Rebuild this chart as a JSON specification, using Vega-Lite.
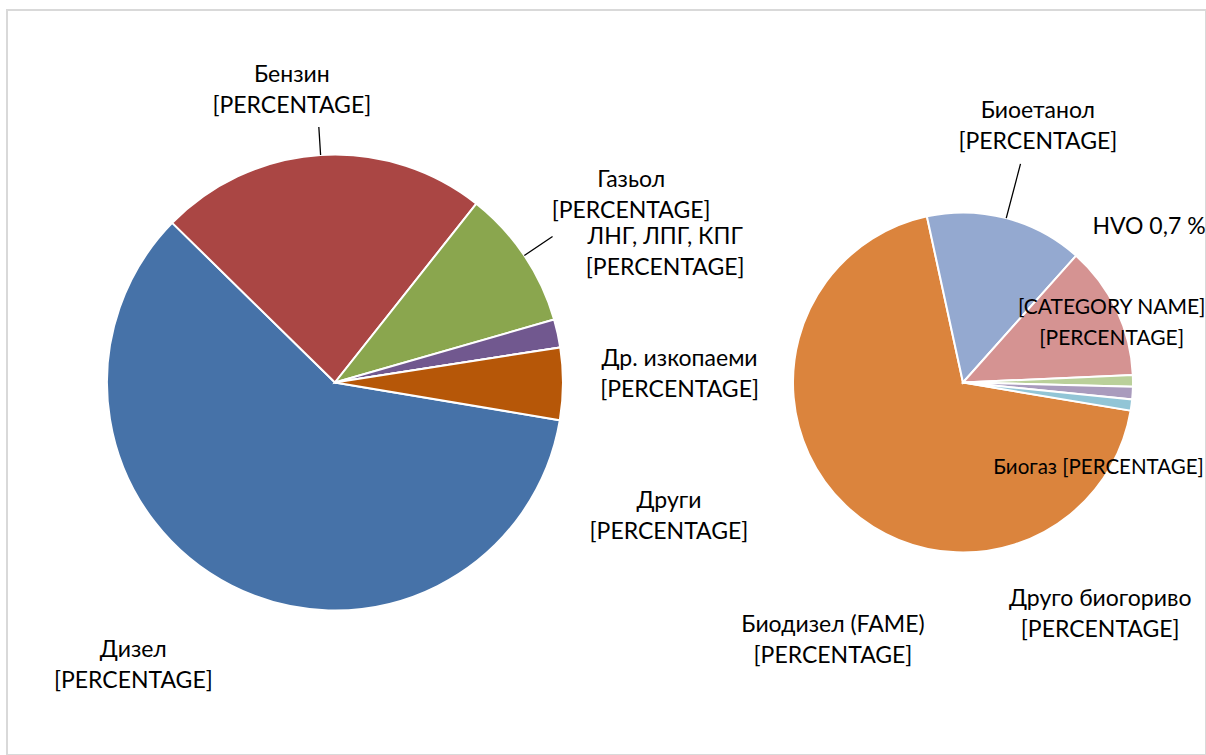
{
  "$schema": "https://vega.github.io/schema/vega-lite/v6.json",
  "width": 1199,
  "height": 745,
  "autosize": "none",
  "padding": {"left": 7, "top": 10, "right": 0, "bottom": 0},
  "background": "white",
  "config": {"view": {"stroke": "#d9d9d9", "strokeWidth": 2}, "font": "Lato"},
  "data": {
    "values": [
      {"pie": "main", "idx": 0, "category": "Дизел", "value": 59.7, "label": "Дизел\n[PERCENTAGE]"},
      {"pie": "main", "idx": 1, "category": "Бензин", "value": 23.3, "label": "Бензин\n[PERCENTAGE]"},
      {"pie": "main", "idx": 2, "category": "Газьол", "value": 9.9, "label": "Газьол\n[PERCENTAGE]"},
      {"pie": "main", "idx": 3, "category": "ЛНГ, ЛПГ, КПГ", "value": 2.0, "label": "ЛНГ, ЛПГ, КПГ\n[PERCENTAGE]"},
      {"pie": "main", "idx": 4, "category": "Др. изкопаеми", "value": 0, "label": "Др. изкопаеми\n[PERCENTAGE]"},
      {"pie": "main", "idx": 5, "category": "Други", "value": 5.1, "label": "Други\n[PERCENTAGE]"},
      {"pie": "sub", "idx": 0, "category": "Биодизел (FAME)", "value": 68.95, "label": "Биодизел (FAME)\n[PERCENTAGE]"},
      {"pie": "sub", "idx": 1, "category": "Биоетанол", "value": 15.0, "label": "Биоетанол\n[PERCENTAGE]"},
      {"pie": "sub", "idx": 2, "category": "[CATEGORY NAME]", "value": 12.7, "label": "[CATEGORY NAME]\n[PERCENTAGE]"},
      {"pie": "sub", "idx": 3, "category": "HVO", "value": 1.1, "label": "HVO 0,7 %"},
      {"pie": "sub", "idx": 4, "category": "Биогаз", "value": 1.2, "label": "Биогаз [PERCENTAGE]"},
      {"pie": "sub", "idx": 5, "category": "Друго биогориво", "value": 1.05, "label": "Друго биогориво\n[PERCENTAGE]"}
    ]
  },
  "encoding": {
    "x": {
      "field": "pie",
      "type": "nominal",
      "scale": {"type": "point", "domain": ["main", "sub"], "padding": 0.4546, "align": 0.5744},
      "axis": null
    },
    "theta": {
      "field": "value",
      "type": "quantitative",
      "stack": true,
      "scale": {"range": [1.737, 8.0202]}
    },
    "order": {"field": "idx", "type": "quantitative"},
    "color": {
      "field": "category",
      "type": "nominal",
      "scale": {
        "domain": ["Дизел", "Бензин", "Газьол", "ЛНГ, ЛПГ, КПГ", "Др. изкопаеми", "Други", "Биодизел (FAME)", "Биоетанол", "[CATEGORY NAME]", "HVO", "Биогаз", "Друго биогориво"],
        "range": ["#4672A8", "#AA4644", "#8AA64E", "#71588F", "#4198AF", "#B65708", "#DB843D", "#94A9D0", "#D59392", "#BAD09A", "#A99BBD", "#92C5D6"]
      },
      "legend": null
    }
  },
  "layer": [
    {
      "transform": [{"filter": "datum.pie === 'main'"}],
      "mark": {"type": "arc", "outerRadius": 228, "stroke": "white", "strokeWidth": 2}
    },
    {
      "transform": [{"filter": "datum.pie === 'sub'"}],
      "mark": {"type": "arc", "outerRadius": 170, "stroke": "white", "strokeWidth": 2}
    },
    {
      "transform": [{"filter": "datum.pie === 'main'"}],
      "mark": {
        "type": "arc",
        "padAngle": 3.1416,
        "innerRadius": 228,
        "outerRadius": {"expr": "[228, 256, 262, 228, 228, 228][datum.idx]"},
        "stroke": "#000000",
        "strokeWidth": {"expr": "(datum.idx === 1 || datum.idx === 2) ? 1.3 : 0"}
      },
      "encoding": {"color": {"value": "#000000"}}
    },
    {
      "transform": [{"filter": "datum.pie === 'sub'"}],
      "mark": {
        "type": "arc",
        "padAngle": 3.1416,
        "innerRadius": 170,
        "outerRadius": {"expr": "[170, 226, 170, 170, 170, 170][datum.idx]"},
        "stroke": "#000000",
        "strokeWidth": {"expr": "datum.idx === 1 ? 1.3 : 0"}
      },
      "encoding": {"color": {"value": "#000000"}}
    },
    {
      "transform": [{"filter": "datum.pie === 'main'"}],
      "mark": {
        "type": "text",
        "radius": 288,
        "font": "Lato",
        "fontSize": 23,
        "lineHeight": 31,
        "lineBreak": "\n",
        "align": "center",
        "baseline": "middle",
        "dx": {"expr": "[-71, -25, 57, 49, 60, 46][datum.idx]"},
        "dy": {"expr": "[11, -20, -42, -83, 21, 117][datum.idx]"}
      },
      "encoding": {"text": {"field": "label"}, "color": {"value": "#000000"}}
    },
    {
      "transform": [{"filter": "datum.pie === 'sub'"}],
      "mark": {
        "type": "text",
        "radius": 200,
        "font": "Lato",
        "fontSize": {"expr": "datum.idx === 2 ? 21 : datum.idx === 4 ? 20.5 : 23"},
        "lineHeight": 31,
        "lineBreak": "\n",
        "align": "center",
        "baseline": "middle",
        "dx": {"expr": "[8, 24, -32, -14, -64, -61][datum.idx]"},
        "dy": {"expr": "[98, -78, 11, -154, 73, 190][datum.idx]"}
      },
      "encoding": {"text": {"field": "label"}, "color": {"value": "#000000"}}
    }
  ],
  "resolve": {"scale": {"theta": "independent"}}
}
